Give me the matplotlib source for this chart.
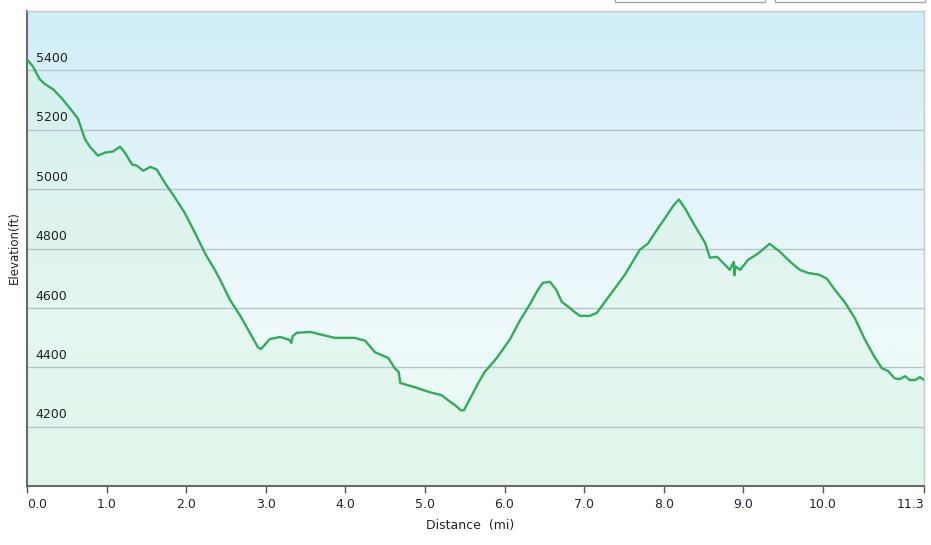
import numpy as np
import matplotlib
matplotlib.use("Agg")
from matplotlib import pyplot as plt
from matplotlib.patches import Rectangle
from matplotlib.colors import LinearSegmentedColormap

# distance (mi) and elevation (ft)
distance = [0.0, 0.075, 0.16, 0.23, 0.33, 0.44, 0.54, 0.64, 0.73, 0.79, 0.89, 0.98,
            1.08, 1.17, 1.23, 1.32, 1.38, 1.46, 1.55, 1.63, 1.73, 1.86, 1.98, 2.11,
            2.24, 2.36, 2.42, 2.55, 2.68, 2.80, 2.90, 2.94, 3.05, 3.18, 3.30, 3.32,
            3.34, 3.39, 3.56, 3.71, 3.87, 4.12, 4.25, 4.37, 4.54, 4.62, 4.67, 4.69,
            4.87, 5.06, 5.21, 5.29, 5.38, 5.45, 5.49, 5.57, 5.67, 5.75, 5.88, 5.94,
            6.07, 6.19, 6.32, 6.42, 6.48, 6.57, 6.65, 6.72, 6.82, 6.88, 6.95, 7.07,
            7.16, 7.26, 7.39, 7.51, 7.64, 7.70, 7.80, 7.89, 8.02, 8.12, 8.19, 8.27,
            8.39, 8.52, 8.58, 8.67, 8.77, 8.83, 8.88, 8.89, 8.90, 8.96, 9.06, 9.18,
            9.33, 9.46, 9.59, 9.71, 9.81, 9.96, 10.05, 10.15, 10.28, 10.40, 10.53,
            10.65, 10.74, 10.82, 10.90, 10.97, 11.03, 11.09, 11.16, 11.22, 11.27]
elevation = [5437, 5413, 5370, 5353, 5336, 5305, 5272, 5238, 5167, 5143, 5113, 5123,
             5127, 5143, 5123, 5083, 5079, 5062, 5075, 5066, 5022, 4971, 4921, 4853,
             4782, 4728, 4698, 4627, 4573, 4516, 4468, 4461, 4495, 4502, 4492, 4482,
             4505, 4516, 4519, 4509, 4499, 4499, 4489, 4451, 4431, 4397, 4384, 4347,
             4333, 4316, 4306, 4289, 4272, 4255, 4255, 4296, 4347, 4384, 4424, 4445,
             4495, 4556, 4613, 4661, 4684, 4688, 4661, 4620, 4600, 4586, 4573, 4573,
             4583, 4620, 4667, 4711, 4769, 4796, 4816, 4853, 4904, 4944, 4965, 4934,
             4877, 4819, 4769, 4772, 4745, 4728, 4755, 4710, 4740, 4728, 4762, 4782,
             4816, 4789, 4755, 4728, 4718, 4711, 4698, 4661, 4617, 4566, 4492,
             4434, 4397, 4387, 4363, 4360, 4370, 4357, 4357, 4367, 4357]

x_ticks = [0, 1, 2, 3, 4, 5, 6, 7, 8, 9, 10, 11.27]
x_labels = ["0.0", "1.0", "2.0", "3.0", "4.0", "5.0", "6.0", "7.0", "8.0", "9.0", "10.0", "11.3"]
y_ticks = [4200, 4400, 4600, 4800, 5000, 5200, 5400]

xmin, xmax = 0, 11.27
ymin, ymax = 4000, 5600

fig = plt.figure(figsize=(9.31, 5.45), dpi=100)
ax = fig.add_axes([27 / 931, 59 / 545, 897 / 931, 475 / 545])

# background gradient: light blue at top fading to pale mint at bottom
bg = LinearSegmentedColormap.from_list("bg", ["#e8f9f1", "#eff9fb", "#e2f3fa", "#d0eef8"])
grad = np.linspace(0, 1, 256).reshape(-1, 1)
ax.imshow(grad, cmap=bg, aspect="auto", origin="lower",
          extent=[xmin, xmax, ymin, ymax], zorder=0)

ax.fill_between(distance, elevation, ymin, color="#d2f3dc", alpha=0.35, lw=0, zorder=1)
ax.plot(distance, elevation, color="#2fae5a", lw=1.7, zorder=3, solid_joinstyle="round")

for y in y_ticks:
    ax.axhline(y, color="#b7c3c8", lw=1.0, zorder=2)
    ax.text(0.11, y + 18, str(y), fontsize=9, color="#222222", va="bottom", ha="left",
            zorder=4)

ax.set_xlim(xmin, xmax)
ax.set_ylim(ymin, ymax)
ax.set_yticks([])
ax.set_xticks(x_ticks)
ax.set_xticklabels(x_labels, fontsize=9, color="#2a2030")
ax.tick_params(axis="x", direction="out", length=5, width=1, color="#555555", pad=4)
labels = ax.get_xticklabels()
labels[0].set_ha("left")
labels[-1].set_ha("right")

for side in ["left", "bottom"]:
    ax.spines[side].set_color("#6a6a6a")
    ax.spines[side].set_linewidth(1.5)
for side in ["top", "right"]:
    ax.spines[side].set_color("#c8c8c8")
    ax.spines[side].set_linewidth(1.0)

fig.text(470 / 931, 1 - 525 / 545, "Distance  (mi)", fontsize=9, color="#222222",
         ha="center", va="center")
fig.text(14 / 931, 1 - 248 / 545, "Elevation(ft)", fontsize=8.5, color="#222222",
         ha="center", va="center", rotation=90)

# bottoms of the two buttons cut off at the top edge
for x0 in [615, 775]:
    fig.patches.append(Rectangle((x0 / 931, 1 - 2 / 545), 150 / 931, 10 / 545,
                                 transform=fig.transFigure, fill=False,
                                 ec="#a8a8a8", lw=1.0))

plt.savefig("out.png", dpi=100)
